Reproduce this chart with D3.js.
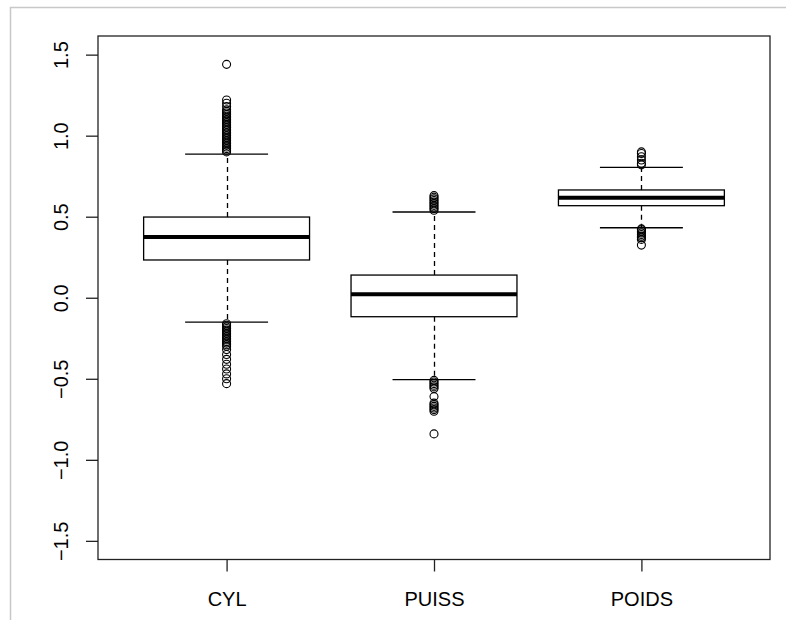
<!DOCTYPE html>
<html>
<head>
<meta charset="utf-8">
<script src="https://d3js.org/d3.v7.min.js"></script>
<style>
    body { margin: 0; background: #fff; }
    text { font-family: "Liberation Sans", Arial, sans-serif; font-size: 20px; fill: #000; }
</style>
</head>
<body>
<div id="chart"></div>
<script>

    // variables of the boxplot
    var categories = ["CYL", "PUISS", "POIDS"];

    // box statistics
    var whiskerLow  = [-0.15, -0.505, 0.432];
    var q1          = [0.233, -0.117, 0.568];
    var medians     = [0.375, 0.021, 0.617];
    var q3          = [0.498, 0.140, 0.665];
    var whiskerHigh = [0.886, 0.529, 0.805];

    // outliers per variable
    var outliersCYL = [1.44, 1.22, 1.20, 1.18, 1.16, 1.15, 1.14, 1.13, 1.12, 1.11, 1.10, 1.09,
        1.08, 1.07, 1.06, 1.05, 1.04, 1.03, 1.02, 1.01, 1.00, 0.99, 0.98, 0.97, 0.96,
        0.95, 0.94, 0.93, 0.92, 0.91, 0.90,
        -0.16, -0.17, -0.18, -0.19, -0.20, -0.21, -0.22, -0.23, -0.24, -0.25, -0.26,
        -0.27, -0.28, -0.29, -0.30, -0.32, -0.35, -0.38, -0.41, -0.44, -0.47, -0.50, -0.53];
    var outliersPUISS = [0.63, 0.62, 0.61, 0.60, 0.59, 0.58, 0.57, 0.56, 0.55, 0.54,
        -0.51, -0.52, -0.53, -0.54, -0.55, -0.56, -0.61, -0.65, -0.66, -0.67, -0.68,
        -0.69, -0.70, -0.84];
    var outliersPOIDS = [0.90, 0.89, 0.87, 0.85, 0.83, 0.82,
        0.425, 0.42, 0.41, 0.40, 0.39, 0.38, 0.37, 0.36, 0.325];
    var outliers = [outliersCYL, outliersPUISS, outliersPOIDS];

    var yTicks = [-1.5, -1.0, -0.5, 0.0, 0.5, 1.0, 1.5];

    var width = 786;
    var height = 620;
    var plotLeft = 98, plotRight = 770, plotTop = 36, plotBottom = 559.5;

    var svg = d3.select("#chart")
        .append("svg")
        .attr("width", width)
        .attr("height", height);

    // grey window frame
    svg.append("path")
        .attr("d", "M10.5," + height + "V7.5H" + width)
        .attr("fill", "none")
        .attr("stroke", "#c8c8c8")
        .attr("stroke-width", 1.5);

    var x = d3.scaleLinear().domain([0.38, 3.62]).range([plotLeft, plotRight]);
    var y = d3.scaleLinear().domain([-1.615, 1.615]).range([plotBottom, plotTop]);

    var boxes = categories.map(function(c, i) {
        return {
            name: c, pos: i + 1,
            lo: whiskerLow[i], q1: q1[i], med: medians[i], q3: q3[i], hi: whiskerHigh[i],
            out: outliers[i]
        };
    });

    var g = svg.selectAll("g.box")
        .data(boxes)
        .enter()
        .append("g")
        .attr("class", "box");

    // dashed whiskers
    g.append("line")
        .attr("x1", function(d) { return Math.round(x(d.pos)) + 0.5; })
        .attr("x2", function(d) { return Math.round(x(d.pos)) + 0.5; })
        .attr("y1", function(d) { return y(d.q3); })
        .attr("y2", function(d) { return y(d.hi); })
        .attr("stroke", "#000")
        .attr("stroke-width", 1.3)
        .attr("stroke-dasharray", "5,4");
    g.append("line")
        .attr("x1", function(d) { return Math.round(x(d.pos)) + 0.5; })
        .attr("x2", function(d) { return Math.round(x(d.pos)) + 0.5; })
        .attr("y1", function(d) { return y(d.q1); })
        .attr("y2", function(d) { return y(d.lo); })
        .attr("stroke", "#000")
        .attr("stroke-width", 1.3)
        .attr("stroke-dasharray", "5,4");

    // staples
    ["lo", "hi"].forEach(function(k) {
        g.append("line")
            .attr("x1", function(d) { return x(d.pos - 0.2); })
            .attr("x2", function(d) { return x(d.pos + 0.2); })
            .attr("y1", function(d) { return y(d[k]); })
            .attr("y2", function(d) { return y(d[k]); })
            .attr("stroke", "#000")
            .attr("stroke-width", 1.3);
    });

    // box
    g.append("rect")
        .attr("x", function(d) { return x(d.pos - 0.4); })
        .attr("width", function(d) { return x(d.pos + 0.4) - x(d.pos - 0.4); })
        .attr("y", function(d) { return y(d.q3); })
        .attr("height", function(d) { return y(d.q1) - y(d.q3); })
        .attr("fill", "none")
        .attr("stroke", "#000")
        .attr("stroke-width", 1.3);

    // median
    g.append("line")
        .attr("x1", function(d) { return x(d.pos - 0.4); })
        .attr("x2", function(d) { return x(d.pos + 0.4); })
        .attr("y1", function(d) { return y(d.med); })
        .attr("y2", function(d) { return y(d.med); })
        .attr("stroke", "#000")
        .attr("stroke-width", 4);

    // outliers
    g.selectAll("circle")
        .data(function(d) { return d.out.map(function(v) { return { pos: d.pos, v: v }; }); })
        .enter()
        .append("circle")
        .attr("cx", function(d) { return x(d.pos); })
        .attr("cy", function(d) { return y(d.v); })
        .attr("r", 4)
        .attr("fill", "none")
        .attr("stroke", "#000")
        .attr("stroke-width", 1.1);

    // plot frame
    svg.append("rect")
        .attr("x", plotLeft)
        .attr("y", plotTop)
        .attr("width", plotRight - plotLeft)
        .attr("height", plotBottom - plotTop)
        .attr("fill", "none")
        .attr("stroke", "#222")
        .attr("stroke-width", 1.3);

    // y axis
    var yAxis = svg.append("g")
        .attr("transform", "translate(" + plotLeft + ",0)")
        .call(d3.axisLeft(y).tickValues(yTicks).tickSize(12).tickFormat(d3.format(".1f")));
    yAxis.select(".domain").remove();
    yAxis.selectAll(".tick line").attr("stroke", "#222").attr("stroke-width", 1.3);
    yAxis.selectAll(".tick text")
        .attr("x", null).attr("dy", null)
        .attr("text-anchor", "middle")
        .attr("font-size", null).attr("font-family", null)
        .attr("transform", "translate(-30,0) rotate(-90)");

    // x axis
    var xAxis = svg.append("g")
        .attr("transform", "translate(0," + plotBottom + ")")
        .call(d3.axisBottom(x).tickValues([1, 2, 3]).tickSize(12)
            .tickFormat(function(d) { return categories[d - 1]; }));
    xAxis.select(".domain").remove();
    xAxis.selectAll(".tick line").attr("stroke", "#222").attr("stroke-width", 1.3);
    xAxis.selectAll(".tick text")
        .attr("dy", null)
        .attr("y", 46)
        .attr("font-size", null).attr("font-family", null);

</script>
</body>
</html>
